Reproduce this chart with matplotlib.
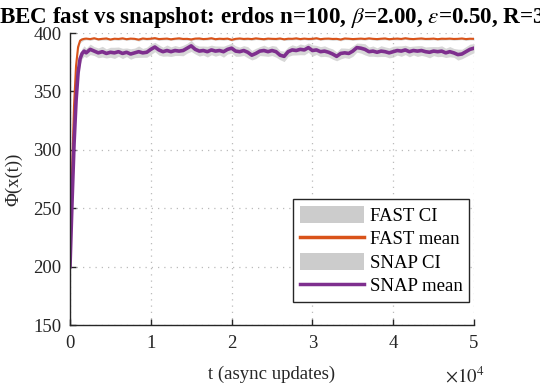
import numpy as np
import matplotlib
matplotlib.use('Agg')
import matplotlib.pyplot as plt
from matplotlib.patches import Patch
from matplotlib.lines import Line2D
from matplotlib.ticker import FuncFormatter

plt.rcParams['font.family'] = ['Liberation Serif', 'DejaVu Serif']
plt.rcParams['mathtext.fontset'] = 'stix'

# time grid: dense samples during the rise, then every 500 updates
t = np.r_[0, 250, 500, 750, 1000, 1250, 1500, 1750, np.arange(2000, 50001, 500)]

fast_mean = [
    205, 280, 338, 372, 388, 393.5, 394.5, 395,
    395.2, 394.8, 395.5, 394.6, 395.0, 395.3, 394.4, 395.1, 394.9, 395.4,
    394.7, 395.2, 395.0, 394.3, 395.3, 394.9, 395.1, 395.6, 394.8, 395.0,
    395.2, 394.6, 395.1, 395.4, 394.9, 395.0, 394.5, 395.2, 395.3, 394.8,
    395.0, 395.5, 394.7, 395.1, 394.9, 395.2, 394.2, 395.0, 395.3, 394.9,
    395.1, 394.8, 395.4, 395.0, 394.7, 395.2, 395.0, 394.9, 395.3, 394.6,
    395.1, 395.0, 395.4, 394.8, 395.2, 394.9, 395.0, 395.5, 394.7, 395.1,
    395.2, 394.9, 395.0, 394.4, 395.3, 395.1, 394.8, 395.0, 395.2, 394.9,
    395.4, 395.0, 394.8, 395.1, 395.3, 394.7, 395.0, 395.2, 394.9, 395.5,
    395.0, 394.8, 395.1, 395.3, 394.9, 395.0, 395.2, 394.7, 395.1, 395.0,
    395.2, 394.9, 395.0, 395.3, 394.8, 395.1, 395.0,
]

snap_mean = [
    200, 255, 305, 342, 366, 378, 382.5, 384.5,
    383, 386, 384.5, 383, 384, 382.5, 383.5, 383, 384, 382.5,
    383.5, 382, 383, 384, 383, 383.5, 386, 388, 385.5, 384,
    385, 384, 385, 384.5, 385, 387, 389, 386, 384.5, 385,
    384, 385.5, 384.5, 385, 384, 386, 387, 384.5, 384, 385,
    383.5, 381, 382.5, 384.5, 385, 384, 385, 384, 381, 380,
    384, 385.5, 385, 386, 385.5, 387.5, 385, 385.5, 384, 384.5,
    383.5, 382, 380, 382.5, 383, 382.5, 384.5, 387.5, 387, 386,
    384, 384.5, 383.5, 384.5, 384, 383, 384, 385, 384.5, 385.5,
    384, 385, 384.5, 385, 384, 383.5, 384.5, 384, 384.5, 383,
    384, 383, 381.5, 382, 384, 386, 387,
]

# half widths of the confidence bands
fast_ci = [
    4, 6, 5, 4, 3, 2, 1.5, 1.2,
    1.0, 1.2, 0.9, 1.1, 1.0, 1.3, 0.9, 1.0, 1.2, 1.0,
    1.1, 0.9, 1.0, 1.2, 1.0, 1.1, 0.9, 1.0, 1.2, 1.0,
    1.1, 1.0, 0.9, 1.2, 1.0, 1.1, 1.0, 0.9, 1.2, 1.0,
    1.0, 1.1, 0.9, 1.0, 1.2, 1.0, 1.1, 1.0, 0.9, 1.2,
    1.0, 1.1, 1.0, 0.9, 1.2, 1.0, 1.0, 1.1, 0.9, 1.0,
    1.2, 1.0, 1.1, 1.0, 0.9, 1.2, 1.0, 1.0, 1.1, 0.9,
    1.0, 1.2, 1.0, 1.1, 1.0, 0.9, 1.2, 1.0, 1.0, 1.1,
    0.9, 1.0, 1.2, 1.0, 1.1, 1.0, 0.9, 1.2, 1.0, 1.0,
    1.1, 0.9, 1.0, 1.2, 1.0, 1.1, 1.0, 0.9, 1.2, 1.0,
    1.0, 1.1, 0.9, 1.0, 1.2, 1.0, 1.1,
]

snap_ci = [
    6, 8, 8, 7, 6, 5, 4.5, 4.5,
    4.0, 4.5, 3.8, 4.2, 4.6, 3.9, 4.3, 4.8, 4.0, 4.4,
    3.7, 4.5, 4.1, 4.9, 3.8, 4.3, 4.6, 4.0, 4.4, 3.9,
    4.7, 4.1, 4.3, 3.8, 4.5, 4.2, 4.8, 4.0, 4.3, 3.9,
    4.6, 4.1, 4.4, 3.8, 4.7, 4.0, 4.3, 4.5, 3.9, 4.2,
    4.8, 4.1, 4.4, 3.8, 4.6, 4.0, 4.3, 4.7, 3.9, 4.5,
    4.1, 4.4, 3.8, 4.6, 4.2, 4.0, 4.8, 3.9, 4.3, 4.5,
    4.0, 4.4, 3.8, 4.7, 4.1, 4.3, 4.5, 3.9, 4.2, 4.8,
    4.0, 4.4, 3.8, 4.6, 4.1, 4.3, 4.7, 3.9, 4.5, 4.0,
    4.4, 3.8, 4.6, 4.2, 4.0, 4.8, 3.9, 4.3, 4.5, 4.0,
    4.4, 3.8, 4.7, 4.1, 4.3, 4.5, 3.9,
]

fast_mean = np.array(fast_mean)
snap_mean = np.array(snap_mean)
fast_ci = np.array(fast_ci)
snap_ci = np.array(snap_ci)

orange = '#D95319'
purple = '#7E2F8E'
band = '#bdbdbd'

fig = plt.figure(figsize=(5.4, 3.9), dpi=100)
ax = fig.add_axes([70 / 540, 65 / 390, 404 / 540, 292 / 390])

ax.fill_between(t, fast_mean - fast_ci, fast_mean + fast_ci, color=band, alpha=0.6, lw=0)
ax.plot(t, fast_mean, color=orange, lw=1.5)
ax.fill_between(t, snap_mean - snap_ci, snap_mean + snap_ci, color=band, alpha=0.6, lw=0)
ax.plot(t, snap_mean, color=purple, lw=2.6)

ax.set_xlim(0, 50000)
ax.set_ylim(150, 400)
ax.set_xticks(np.arange(0, 50001, 10000))
ax.set_yticks(np.arange(150, 401, 50))
ax.xaxis.set_major_formatter(FuncFormatter(lambda v, p: '%d' % round(v / 1e4)))

for s in ['top', 'right']:
    ax.spines[s].set_visible(False)
for s in ['left', 'bottom']:
    ax.spines[s].set_color('#262626')
    ax.spines[s].set_linewidth(1.0)

ax.tick_params(direction='in', length=4, width=1.0, color='#262626',
               labelsize=13.5, labelcolor='#262626')
ax.tick_params(axis='x', pad=7)
ax.tick_params(axis='y', pad=6)
ax.grid(True, linestyle=(0, (1, 4)), color='#bbbbbb', lw=0.9)
ax.set_axisbelow(True)

ax.set_xlabel('t (async updates)', fontsize=13.5, color='#262626', labelpad=10)
ax.set_ylabel('\u03a6(x(t))', fontsize=13.5, color='#262626', labelpad=8)
ax.text(0.978, -0.14, r'$\times10^{4}$', transform=ax.transAxes, ha='center', va='top',
        fontsize=13.5, color='#262626')

ax.set_title(r'BEC fast vs snapshot: erdos n=100, $\beta$=2.00, $\epsilon$=0.50, R=3',
             fontsize=16.6, fontweight='bold', pad=7)

handles = [
    Patch(facecolor='#cccccc', edgecolor='none'),
    Line2D([], [], color=orange, lw=2.5),
    Patch(facecolor='#cccccc', edgecolor='none'),
    Line2D([], [], color=purple, lw=2.5),
]
labels = ['FAST CI', 'FAST mean', 'SNAP CI', 'SNAP mean']
leg = ax.legend(handles, labels, loc='lower right', bbox_to_anchor=(0.9876, 0.079),
                fontsize=13.5, frameon=True, fancybox=False, framealpha=1,
                edgecolor='#262626', handlelength=3.4, handleheight=1.0,
                handletextpad=0.32, labelspacing=0.25, borderpad=0.35,
                borderaxespad=0.0)
leg.get_frame().set_linewidth(1.0)

fig.savefig('out.png', dpi=100)
